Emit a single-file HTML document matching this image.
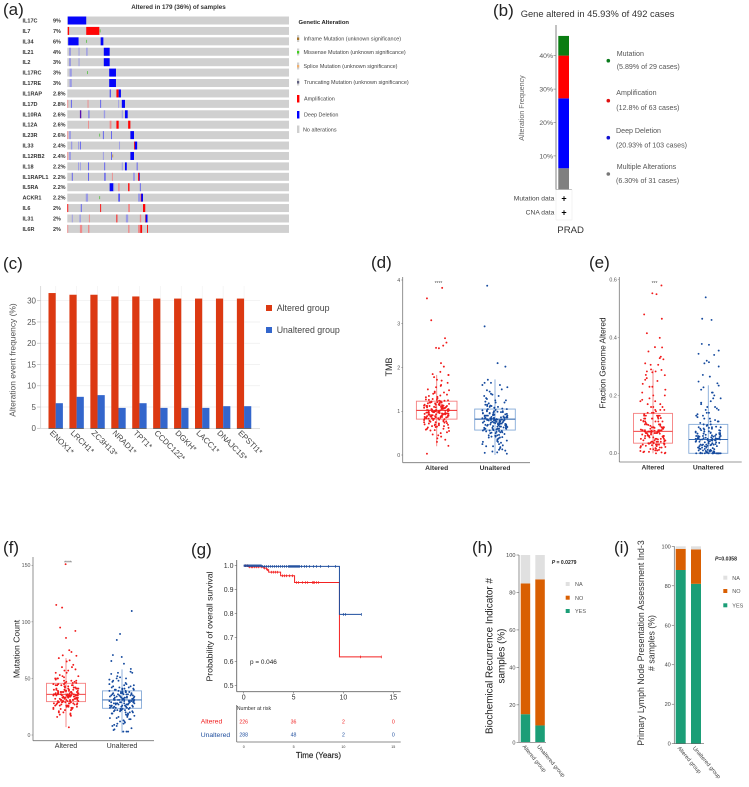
<!DOCTYPE html>
<html lang="en">
<head>
<meta charset="utf-8">
<title>Multi-panel genomic alteration figure</title>
<style>
html,body{margin:0;padding:0;background:#fff;width:749px;height:787px;overflow:hidden}
svg{display:block;fill:#333;filter:blur(.3px)}
text{font-family:"Liberation Sans",sans-serif}
.plabel{font-size:17px;fill:#222}
.leg5{font-size:5.45px;fill:#444}
.b7{font-size:7.1px;fill:#555}
.cnt{font-size:5.6px;fill:#555}
</style>
</head>
<body>
<svg id="figure" xmlns="http://www.w3.org/2000/svg" width="749" height="787" viewBox="0 0 749 787">
<rect x="0" y="0" width="749" height="787" fill="#fff"/>

<g id="panel-a">
  <text class="plabel" x="3" y="15">(a)</text>
  <text x="178.5" y="9" text-anchor="middle" font-size="6.3" font-weight="bold">Altered in 179 (36%) of samples</text>
  <text x="298.5" y="24" font-size="5.9" font-weight="bold" fill="#222">Genetic Alteration</text>
  <g>
    <rect x="297" y="35" width="2.2" height="7" fill="#d0d0d0"/>
    <rect x="297" y="37.5" width="2.2" height="2.5" fill="#a5742a"/>
    <text class="leg5" x="303.5" y="40.7">Inframe Mutation (unknown significance)</text>
    <rect x="297" y="48.5" width="2.2" height="7" fill="#d0d0d0"/>
    <rect x="297" y="51" width="2.2" height="2.5" fill="#3fd01c"/>
    <text class="leg5" x="303.5" y="54">Missense Mutation (unknown significance)</text>
    <rect x="297" y="62.5" width="2.2" height="7" fill="#d0d0d0"/>
    <rect x="297" y="65" width="2.2" height="2.5" fill="#f0b070"/>
    <text class="leg5" x="303.5" y="68">Splice Mutation (unknown significance)</text>
    <rect x="297" y="78.5" width="2.2" height="7" fill="#d0d0d0"/>
    <rect x="297" y="81" width="2.2" height="2.5" fill="#606080"/>
    <text class="leg5" x="304" y="84">Truncating Mutation (unknown significance)</text>
    <rect x="297" y="95" width="2.4" height="7.5" fill="#ff0000"/>
    <text class="leg5" x="304" y="100.5">Amplification</text>
    <rect x="297" y="111" width="2.4" height="7.5" fill="#0000ff"/>
    <text class="leg5" x="304" y="116.7">Deep Deletion</text>
    <rect x="297" y="125.5" width="2.4" height="7.5" fill="#cfcfcf"/>
    <text class="leg5" x="303" y="131.3">No alterations</text>
  </g>
</g>

<g id="panel-b">
  <text class="plabel" x="493" y="16">(b)</text>
  <text x="520.7" y="17" font-size="9.35" fill="#333">Gene altered in 45.93% of 492 cases</text>
  <text transform="translate(524,108) rotate(-90)" text-anchor="middle" font-size="7.1" fill="#666">Alteration Frequency</text>
  <line x1="556" y1="189.5" x2="572" y2="189.5" stroke="#aaa" stroke-width="0.7"/>
  <line x1="556" y1="189.5" x2="556" y2="220" stroke="#eee" stroke-width="0.7"/>
  <line x1="572" y1="189.5" x2="572" y2="220" stroke="#eee" stroke-width="0.7"/>
  <line x1="556" y1="220" x2="572" y2="220" stroke="#eee" stroke-width="0.7"/>
  <g>
    <circle cx="608.3" cy="60.7" r="1.8" fill="#0a7a1c"/>
    <text class="b7" x="616.7" y="56">Mutation</text>
    <text class="b7" x="616.7" y="69">(5.89% of 29 cases)</text>
    <circle cx="608.3" cy="100.7" r="1.8" fill="#e01010"/>
    <text class="b7" x="616.3" y="95">Amplification</text>
    <text class="b7" x="616.3" y="110">(12.8% of 63 cases)</text>
    <circle cx="608.3" cy="137.7" r="1.8" fill="#1010d0"/>
    <text class="b7" x="616" y="133">Deep Deletion</text>
    <text class="b7" x="616" y="147.5">(20.93% of 103 cases)</text>
    <circle cx="608.3" cy="174" r="1.8" fill="#777"/>
    <text class="b7" x="616.7" y="169">Multiple Alterations</text>
    <text class="b7" x="616" y="183">(6.30% of 31 cases)</text>
  </g>
  <text x="554.3" y="200.5" text-anchor="end" font-size="6.7" fill="#444">Mutation data</text>
  <text x="564" y="201.5" text-anchor="middle" font-size="9" font-weight="bold" fill="#000">+</text>
  <text x="554.3" y="214.5" text-anchor="end" font-size="6.7" fill="#444">CNA data</text>
  <text x="564" y="215.5" text-anchor="middle" font-size="9" font-weight="bold" fill="#000">+</text>
  <text x="557.3" y="233" font-size="9.6" fill="#333">PRAD</text>
</g>

<g id="panel-c">
  <text class="plabel" x="3" y="269">(c)</text>
  <text transform="translate(15.5,360) rotate(-90)" text-anchor="middle" font-size="8.45" fill="#555">Alteration event frequency (%)</text>
  <rect x="266" y="305" width="6" height="6" fill="#dc3912"/>
  <text x="276.7" y="311" font-size="8.8" fill="#444">Altered group</text>
  <rect x="266" y="327" width="6" height="6" fill="#3366cc"/>
  <text x="276.7" y="333" font-size="8.8" fill="#444">Unaltered group</text>
</g>

<g id="panel-d">
  <text class="plabel" x="371" y="268">(d)</text>
  <text transform="translate(392,367) rotate(-90)" text-anchor="middle" font-size="9" fill="#222">TMB</text>
  <text x="438.5" y="285" text-anchor="middle" font-size="5" fill="#555">****</text>
</g>

<g id="panel-e">
  <text class="plabel" x="589" y="268">(e)</text>
  <text transform="translate(605.5,363) rotate(-90)" text-anchor="middle" font-size="8.2" fill="#222">Fraction Genome Altered</text>
  <text x="654.5" y="285" text-anchor="middle" font-size="5" fill="#555">***</text>
</g>

<g id="panel-f">
  <text class="plabel" x="3" y="553">(f)</text>
  <text transform="translate(19.5,649) rotate(-90)" text-anchor="middle" font-size="8.6" fill="#222">Mutation Count</text>
  <text x="68" y="564.5" text-anchor="middle" font-size="5" fill="#555">****</text>
</g>

<g id="panel-g">
  <text class="plabel" x="191" y="555">(g)</text>
  <text transform="translate(212.5,626.5) rotate(-90)" text-anchor="middle" font-size="8.7" fill="#222">Probability of overall survival</text>
  <text x="250" y="664" font-size="6.4" fill="#222">p = 0.046</text>
  <text x="236.7" y="710" font-size="5.3" fill="#333">Number at risk</text>
  <text x="200.7" y="723.5" font-size="6.8" fill="#f02020">Altered</text>
  <text x="200.7" y="737" font-size="6.8" fill="#1f4e9e">Unaltered</text>
  <text x="318.5" y="758" text-anchor="middle" font-size="8" fill="#222" stroke="#222" stroke-width="0.15">Time (Years)</text>
</g>

<g id="panel-h">
  <text class="plabel" x="472" y="553">(h)</text>
  <text transform="translate(492.5,656) rotate(-90)" text-anchor="middle" font-size="9.9" fill="#222">Biochemical Recurrence Indicator #</text>
  <text transform="translate(504.5,656) rotate(-90)" text-anchor="middle" font-size="9.9" fill="#222">samples (%)</text>
  <text x="551.7" y="564" font-size="5.1" font-weight="bold" fill="#222"><tspan font-style="italic">P</tspan> = 0.0279</text>
  <rect x="565.7" y="582" width="4" height="4" fill="#e0e0e0"/>
  <text x="575" y="586.2" font-size="5.5" fill="#555">NA</text>
  <rect x="565.7" y="595.7" width="4" height="4" fill="#d95f02"/>
  <text x="575" y="599.9" font-size="5.5" fill="#555">NO</text>
  <rect x="565.7" y="609" width="4" height="4" fill="#1b9e77"/>
  <text x="575" y="613.2" font-size="5.5" fill="#555">YES</text>
</g>

<g id="panel-i">
  <text class="plabel" x="614" y="553">(i)</text>
  <text transform="translate(644,643) rotate(-90)" text-anchor="middle" font-size="8.75" fill="#333">Primary Lymph Node Presentation Assessment Ind-3</text>
  <text transform="translate(654.5,643) rotate(-90)" text-anchor="middle" font-size="8.75" fill="#333"># samples (%)</text>
  <text x="715" y="560.5" font-size="5.1" font-weight="bold" fill="#222"><tspan font-style="italic">P</tspan>=0.0358</text>
  <rect x="723.3" y="575.7" width="4" height="4" fill="#e0e0e0"/>
  <text x="732.3" y="579.9" font-size="5.5" fill="#555">NA</text>
  <rect x="723.3" y="589" width="4" height="4" fill="#d95f02"/>
  <text x="732.3" y="593.2" font-size="5.5" fill="#555">NO</text>
  <rect x="723.3" y="603.3" width="4" height="4" fill="#1b9e77"/>
  <text x="732.3" y="607.5" font-size="5.5" fill="#555">YES</text>
</g>
</svg>

<script>
// ---------- Panel (a) data ----------
const geneNames = ['IL17C','IL7','IL34','IL21','IL2','IL17RC','IL17RE','IL1RAP','IL17D','IL10RA','IL12A','IL23R','IL33','IL12RB2','IL18','IL1RAPL1','IL5RA','ACKR1','IL6','IL31','IL6R'];
const genePercents = ['9%','7%','6%','4%','3%','3%','3%','2.8%','2.8%','2.6%','2.6%','2.6%','2.4%','2.4%','2.2%','2.2%','2.2%','2.2%','2%','2%','2%'];
const totalSamples = 492;
// each event: [type, first sample, last sample]
const geneEvents = [
 [['D',1,42]],
 [['A',1,4],['A',42,71],['M',72,73]],
 [['D',2,25],['M',42,43],['D',74,80]],
 [['d',5,7],['f',25,27],['f',42,45],['D',81,94]],
 [['d',5,7],['f',25,27],['D',81,94]],
 [['f',5,10],['M',44,45],['D',93,108]],
 [['f',5,10],['D',93,108]],
 [['d',94,97],['A',109,114],['D',114,119]],
 [['s',0,2],['d',8,10],['s',45,47],['d',73,75],['f',113,115],['D',121,128]],
 [['P',28,31],['d',47,49],['f',81,84],['f',121,123],['D',128,134]],
 [['s',46,48],['s',94,98],['A',109,114],['A',135,140]],
 [['s',0,2],['f',4,8],['M',71,72],['d',79,81],['d',97,99],['D',140,148]],
 [['f',8,11],['f',24,26],['d',28,30],['f',115,117],['A',148,150],['D',150,155]],
 [['s',0,2],['f',4,8],['f',79,81],['d',97,99],['O',100,101],['D',140,148]],
 [['f',24,26],['f',28,30],['d',46,48],['d',82,84],['f',121,123],['D',128,132],['d',154,156]],
 [['d',10,12],['d',46,48],['d',82,85],['s',99,101],['f',146,150],['A',157,159],['P',159,161]],
 [['D',94,102],['f',102,104],['s',113,116],['A',135,138],['d',161,163]],
 [['f',41,46],['M',71,72],['d',113,117],['f',157,162],['A',163,164],['D',164,168]],
 [['A',0,2],['d',30,32],['A',73,75],['s',135,139],['A',168,173]],
 [['f',10,12],['f',27,30],['s',48,50],['A',109,111],['f',130,135],['s',161,164],['A',173,174],['D',174,178]],
 [['s',0,2],['s',28,33],['s',46,49],['s',135,138],['s',157,162],['A',162,166],['A',177,179]]
];
// ---------- Panel (b) data ----------
const cancerStackLabels = ['Multiple Alterations','Deep Deletion','Amplification','Mutation'];
const cancerStackValues = [6.3,20.93,12.8,5.89];
const cancerTicks = [10,20,30,40];
// ---------- Panel (c) data ----------
const eventGenes = ['ENOX1*','LRCH1*','ZC3H13*','NRAD1*','TPT1*','CCDC122*','DGKH*','LACC1*','DNAJC15*','EPSTI1*'];
const eventAltered = [31.8,31.4,31.4,31,31,30.5,30.5,30.5,30.5,30.5];
const eventUnaltered = [5.9,7.4,7.8,4.8,5.9,4.8,4.8,4.8,5.2,5.2];
const eventTicks = [0,5,10,15,20,25,30];
// ---------- Strip plots: shared jitter fractions ----------
const stripJitter = [-.62,.31,-.08,.84,-.41,.17,.66,-.93,.05,-.27,.52,-.74,.38,.91,-.15,-.55,.23,.73,-.36,.02,-.83,.46,-.2,.6,-.68,.12,.95,-.48,.28,-.05,.79,-.97,.41,-.31,.56,-.12,.87,-.6,.19,-.79,.34];
// ---------- Panel (d) data ----------
const stripGroups = ['Altered','Unaltered'];
const tmbTicks = [0,1,2,3,4];
const tmbAltered = [1.02,.88,1.15,.95,1.21,.72,1.08,.83,1.33,.98,.6,1.12,.9,1.05,1.42,.78,1.18,.86,1,.65,1.27,.93,1.1,.82,1.5,.97,.55,1.2,.85,1.03,1.38,.75,1.14,.91,1.07,.7,1.25,.96,1.16,.84,1.6,.99,.5,1.09,.87,1.22,.68,1.01,.94,1.3,.8,1.13,.89,1.06,.62,1.45,.92,1.19,.77,1.04,1.72,.58,1.11,.83,1.24,.97,.45,1.17,.88,1.02,1.55,.73,1.08,.95,1.28,.66,1,.9,1.35,.81,1.12,.42,.98,1.23,.86,1.65,1.05,.71,.93,1.15,.38,1.4,.79,1.03,.89,1.83,.57,1.2,.96,1.1,.84,.3,1.32,.92,1.78,1.07,.63,.99,1.48,.76,1.9,1.01,.52,1.13,.87,1.85,.94,1.18,.69,1.26,1,.85,1.1,.92,1.22,.75,1.04,.88,1.16,.96,.7,1.3,.82,1.06,.6,1.2,.9,1,.78,1.14,.95,.66,1.26,.86,1.08,.98,.74,1.18,.84,1.02,.56,1.36,.93,1.12,.8,1.05,.47,1.43,.89,1,.72,1.24,.97,1.1,.83,1.58,.64,1.03,.91,1.15,.35,.87,1.21,.99,.77,1.09,1.7,.94,.68,1.12];
const tmbAlteredOutliers = [[-.75,3.58],[-.42,3.08],[.42,3.82],[.64,2.67],[.75,2.57],[.5,2.5],[-.05,2.45],[.17,2.44],[.33,2.1],[.55,2.02],[.9,1.83],[-.75,.03],[.9,.21]];
const tmbUnaltered = [.82,.6,1,.7,.95,.45,.88,.3,.78,1.12,.55,.85,.65,1.05,.2,.9,.72,1.2,.5,.8,.62,.98,.08,.75,1.3,.58,.86,.4,.68,1.08,.93,.25,.77,1.4,.52,.83,.66,1.15,.35,.89,.7,1.02,.12,.74,1.25,.56,.81,.63,.96,.42,.87,1.5,.6,.79,.03,.91,.69,1.1,.48,.84,.73,1.35,.28,.76,1,.54,.82,.64,1.18,.38,.92,.71,1.6,.18,.8,1.06,.57,.86,.67,.99,.05,.78,1.28,.46,.83,.61,1.45,.32,.88,.74,1.03,.51,.81,1.22,.15,.94,.59,1.72,.7,.85,1.13,.44,.77,.65,1.38,.22,.9,.53,1.55,.79,.6,1.08,.1,.84,.72,1.65,.41,.97,.68,.8,.65,.9,.75,1,.55,.85,.7,1.1,.6,.78,.95,.5,.83,.72,1.15,.4,.88,.66,1.05,.3,.8,.7,1.25,.58,.86,.62,.98,.2,.76,.9,.45,1.35,.82,.68,1.02,.52,.74,.13,.92,.6,1.12,.36,.84,.71,1.48,.25,.79,.64,.96,.06,.87,.56,1.2,.42,.81,.69,1.6,.33,.93];
const tmbUnalteredOutliers = [[-.6,3.87],[-.8,2.94],[.2,2.1],[.8,2.02],[-.8,1.65]];
const tmbAlteredBox = [.2,.82,1.02,1.23,1.83];
const tmbUnalteredBox = [0,.57,.82,1.05,1.73];
// ---------- Panel (e) data ----------
const fgaTicks = [0,.2,.4,.6];
const fgaAltered = [.08,.03,.12,.06,.17,.01,.09,.05,.14,.075,.02,.11,.04,.2,.07,.13,0,.085,.035,.16,.065,.1,.015,.078,.13,.045,.22,.07,.025,.12,.055,.18,.08,.005,.095,.04,.15,.06,.11,.03,.25,.075,.01,.09,.05,.14,.07,.02,.115,.035,.19,.08,.045,.125,0,.065,.105,.03,.16,.075,.055,.21,.012,.085,.04,.135,.07,.022,.1,.05,.28,.06,.008,.12,.033,.17,.078,.042,.11,.018,.24,.072,.052,.13,.028,.09,.062,.15,.003,.082,.038,.23,.068,.112,.048,.27,.076,.026,.145,.058,.098,.014,.185,.074,.036,.122,.006,.088,.044,.26,.07,.04,.09,.02,.11,.06,.15,.075,.03,.12,.05,.08,.01,.1,.07,.14,.035,.065,.18,.08,.025,.09,.055,.13,.004,.075,.045,.16,.07,.016,.11,.06,.2,.08,.03,.095,.05,.12,.078,.002,.07,.04,.23,.085,.02,.13,.06,.1,.074,.033];
const fgaAlteredOutliers = [[.65,.58],[-.05,.553],[.27,.55],[-.68,.48],[.68,.465],[-.47,.415],[.52,.399],[.15,.367],[.7,.366],[-.35,.352],[.6,.334],[.52,.329],[.8,.325],[-.6,.311],[-.18,.306],[.4,.306],[.65,.288],[-.15,.29],[-.47,.283],[.2,.283],[-.55,.271],[-.6,.254]];
const fgaUnaltered = [0,.05,.002,.08,.03,.11,0,.06,.14,.015,.045,.09,.004,.07,.02,.17,.055,0,.1,.035,.05,.2,.008,.065,.025,.12,0,.048,.085,.012,.15,.04,.006,.075,.052,.095,0,.03,.18,.06,.018,.105,.044,.003,.07,.13,.028,.05,0,.088,.038,.16,.01,.058,.078,.022,.22,.046,0,.068,.034,.125,.005,.054,.092,.016,.042,.19,0,.062,.026,.11,.05,.007,.082,.032,.14,.056,.002,.072,.02,.21,.047,0,.098,.036,.06,.012,.155,.043,.076,.024,.115,.052,0,.066,.03,.175,.009,.05,.086,.04,.135,.001,.064,0,.04,.01,.06,.02,.09,.05,0,.075,.03,.12,.045,.005,.065,.015,.1,.055,0,.085,.035,.16,.05,.01,.07,.025,.13,.042,0,.06,.02,.19,.048,.003,.08,.03,.11,.052,0,.068,.014,.15,.038,.058,.006,.09,.028,.21,.046,0,.072];
const fgaUnalteredOutliers = [[-.2,.539],[-.47,.465],[.25,.461],[-.5,.378],[.05,.375],[.8,.355],[-.75,.344],[.45,.34],[-.12,.32],[-.3,.311],[.05,.315],[.8,.3],[-.42,.271],[.12,.265],[-.75,.248],[.7,.242],[-.37,.228],[.8,.234]];
const fgaAlteredBox = [0,.035,.076,.138,.29];
const fgaUnalteredBox = [0,0,.048,.1,.235];
// ---------- Panel (f) data ----------
const mcTicks = [0,50,100,150];
const mcAltered = [36,30,42,25,38,33,47,28,35,52,31,40,22,37,45,29,34,58,27,39,32,44,20,36,50,30,41,26,35,33,48,24,38,60,31,43,28,37,34,55,18,39,30,46,35,23,41,32,36,65,29,44,27,38,33,51,21,40,35,31,47,26,37,34,42,16,36,30,53,28,39,33,45,24,38,62,32,41,29,35,49,19,37,31,43,27,36,57,34,40,25,30,46,35,17,39,33,68,28,42,36,31,50,23,38,34,44,26,37,32,66,29,41,35,48,35,28,40,32,45,25,37,30,50,34,22,38,31,43,27,36,55,33,24,41,29,35,48,20,39,32,44,26,36,60,30,42,28,34,52,18,37,33,46,23,35,29,40,57,31,38,26,44,34,30];
const mcAlteredOutliers = [[-.03,151],[-.75,115],[-.3,112.6],[-.45,95],[.72,92],[0,85.8],[.25,75],[.42,73.4],[-.25,70.4],[.8,70],[.22,6.8]];
const mcUnaltered = [31,25,38,20,34,28,43,15,32,48,23,36,27,40,12,33,22,30,52,26,35,18,42,29,37,10,31,24,46,33,21,39,27,55,14,34,30,25,41,19,36,28,50,23,32,8,44,35,26,38,16,30,47,24,33,29,40,11,37,22,31,54,27,35,20,43,13,34,28,39,25,32,49,17,36,30,23,41,9,33,26,45,21,38,29,35,15,31,56,24,37,27,42,19,34,30,51,22,33,6,28,40,25,36,31,30,24,36,28,40,20,33,26,45,16,31,38,22,29,35,12,42,27,32,18,37,25,50,30,14,34,23,39,28,8,33,44,21,31,26,36,10,41,29,19,35,24,48,32,17,27,38,22,55,30];
const mcUnalteredOutliers = [[.75,109.6],[-.15,89.3],[-.4,84],[-.7,70.7],[-.02,69],[-.82,65.4],[.15,63],[.68,58.4],[.1,3],[-.58,5],[.35,3],[.47,3],[-.65,4.4]];
const mcAlteredBox = [7,29.5,36,45.7,68];
const mcUnalteredBox = [2,23.6,31,39,58];
// ---------- Panel (g) data ----------
const survYTicks = [.5,.6,.7,.8,.9,1];
const survXTicks = [0,5,10,15];
const redTimes = [0,.5,2,2.3,2.5,3.7,5.1,9.6];
const redSurvival = [1,.995,.99,.983,.973,.958,.93,.62];
const redEnd = 13.8;
const blueTimes = [0,1.8,9.6];
const blueSurvival = [1,.997,.797];
const blueEnd = 11.8;
const redCensor = [.2,.4,.6,.8,.9,1.1,1.3,1.5,1.8,2.1,2.4,2.8,3,3.2,3.4,3.9,4.1,4.3,4.6,4.9,5.3,5.5,5.9,6.2,6.4,6.9,7,7.1,7.3,7.5,11.7,13.8];
const blueCensor = [.05,.15,.25,.35,.45,.55,.65,.75,.85,.95,1.05,1.15,1.25,1.35,1.45,1.55,1.65,1.75,1.9,2.1,2.3,2.5,2.7,2.9,3.1,3.3,3.5,3.7,3.9,4.1,4.3,4.5,4.6,4.7,4.8,4.9,5,5.1,5.2,5.3,5.4,5.5,5.6,5.8,6.1,6.3,6.6,7,7.3,7.7,8.5,9.2,10,10.2,11.8];
const riskAltered = [226,36,2,0];
const riskUnaltered = [288,48,2,0];
// ---------- Panels (h), (i) data ----------
const stackCats = ['Altered group','Unaltered group'];
const stackPctTicks = [0,20,40,60,80,100];
const recurrenceYes = [15,9];
const recurrenceNo = [69.8,78];
const recurrenceNa = [15.2,13];
const lymphYes = [88,81];
const lymphNo = [10.7,17.4];
const lymphNa = [1.3,1.6];

// ---------- helpers ----------
const NS = 'http://www.w3.org/2000/svg';
function add(parent, tag, attrs, name, text) {
  const node = document.createElementNS(NS, tag);
  for (const k in attrs) node.setAttribute(k, attrs[k]);
  
  
  if (text !== undefined) node.textContent = text;
  parent.appendChild(node);
  return node;
}
const linear = (d0, d1, r0, r1) => v => r0 + (v - d0) / (d1 - d0) * (r1 - r0);
const panel = id => document.getElementById(id);

// ---------- Panel (a) ----------
(function () {
  const g = panel('panel-a');
  const sx = linear(0, totalSamples, 67.3, 289);
  const rowY = i => 20.5 + i * 10.42;
  const colors = {D:'#0505fa',A:'#ff0505',d:'#5a5af0',f:'#9a9ae4',s:'#ee8a8a',M:'#55c040',P:'#5a10b0',O:'#c09030'};
  geneNames.forEach((gene, i) => {
    const y = rowY(i);
    add(g, 'text', {x:22.5, y:y + 2, 'font-size':5.5, 'font-weight':'bold', fill:'#333'}, 'gene-label-' + gene, gene);
    add(g, 'text', {x:53, y:y + 2, 'font-size':5.5, 'font-weight':'bold', fill:'#333'}, 'gene-percent-' + gene, genePercents[i]);
    add(g, 'rect', {x:sx(0), y:y - 4, width:sx(totalSamples) - sx(0), height:8, fill:'#d0d0d0'}, 'oncoprint-row-' + gene);
    geneEvents[i].forEach(ev => {
      const small = ev[0] === 'M' || ev[0] === 'O';
      const h = small ? 3 : 8;
      add(g, 'rect', {x:sx(ev[1]), y:y - h / 2, width:Math.max(sx(ev[2]) - sx(ev[1]), .8), height:h, fill:colors[ev[0]]}, 'alteration-' + gene);
    });
  });
})();

// ---------- Panel (b) ----------
(function () {
  const g = panel('panel-b');
  const y = linear(0, 40, 189.3, 55.7);
  const colors = ['#808080','#0000ff','#ff0000','#0a7d12'];
  let base = 0;
  cancerStackValues.forEach((v, i) => {
    add(g, 'rect', {x:558.3, y:y(base + v), width:10.7, height:y(base) - y(base + v), fill:colors[i]}, 'stack-' + cancerStackLabels[i].toLowerCase().replace(/ /g, '-'));
    base += v;
  });
  add(g, 'line', {x1:556, y1:25, x2:556, y2:189.5, stroke:'#777', 'stroke-width':.9}, 'panel-b-y-axis');
  cancerTicks.forEach(t => {
    add(g, 'line', {x1:553.5, y1:y(t), x2:556, y2:y(t), stroke:'#777', 'stroke-width':.6}, 'panel-b-tick-' + t);
    add(g, 'text', {x:553, y:y(t) + 2.4, 'text-anchor':'end', 'font-size':6.8, fill:'#555'}, 'panel-b-tick-label-' + t, t + '%');
  });
})();

// ---------- Panel (c) ----------
(function () {
  const g = panel('panel-c');
  const y = linear(0, 30, 428.3, 300.7);
  const gx = i => 55.7 + i * 20.93;
  eventTicks.forEach(t => {
    add(g, 'line', {x1:40.7, y1:y(t), x2:260, y2:y(t), stroke:t === 0 ? '#ccc' : '#eeeeee', 'stroke-width':.7}, 'panel-c-gridline-' + t);
    add(g, 'line', {x1:37, y1:y(t), x2:40.7, y2:y(t), stroke:'#bbb', 'stroke-width':.7}, 'panel-c-tick-' + t);
    add(g, 'text', {x:36, y:y(t) + 2.9, 'text-anchor':'end', 'font-size':8, fill:'#555'}, 'panel-c-tick-label-' + t, t);
  });
  add(g, 'line', {x1:40.7, y1:286, x2:40.7, y2:428.3, stroke:'#ccc', 'stroke-width':.7}, 'panel-c-y-axis');
  eventGenes.forEach((name, i) => {
    add(g, 'line', {x1:gx(i), y1:286, x2:gx(i), y2:428.3, stroke:'#f2f2f2', 'stroke-width':.7}, 'panel-c-vgrid-' + i);
    add(g, 'rect', {x:gx(i) - 7.2, y:y(eventAltered[i]), width:7.2, height:y(0) - y(eventAltered[i]), fill:'#dc3912'}, 'bar-altered-' + name);
    add(g, 'rect', {x:gx(i), y:y(eventUnaltered[i]), width:7.2, height:y(0) - y(eventUnaltered[i]), fill:'#3366cc'}, 'bar-unaltered-' + name);
    add(g, 'line', {x1:gx(i) - 7.2, y1:y(0) + .2, x2:gx(i) + 7.2, y2:y(0) + .2, stroke:'#444', 'stroke-width':.7}, 'panel-c-baseline-' + i);
    add(g, 'text', {transform:'translate(' + (gx(i) - 6.5) + ',433.5) rotate(45)', 'font-size':8, fill:'#444'}, 'x-label-' + name, name);
  });
})();

// ---------- Strip plots (d), (e), (f) ----------
function stripPlot(cfg) {
  const g = panel(cfg.panel);
  const y = linear(cfg.ticks[0], cfg.ticks[cfg.ticks.length - 1], cfg.y0, cfg.y1);
  add(g, 'line', {x1:cfg.axisX, y1:cfg.axisTop, x2:cfg.axisX, y2:cfg.axisY, stroke:'#777', 'stroke-width':.8}, cfg.panel + '-y-axis');
  add(g, 'line', {x1:cfg.axisX, y1:cfg.axisY, x2:cfg.axisEnd, y2:cfg.axisY, stroke:'#777', 'stroke-width':.8}, cfg.panel + '-x-axis');
  cfg.ticks.forEach(t => {
    add(g, 'line', {x1:cfg.axisX - 1.5, y1:y(t), x2:cfg.axisX, y2:y(t), stroke:'#777', 'stroke-width':.5}, cfg.panel + '-tick-' + t);
    add(g, 'text', {x:cfg.axisX - 2.5, y:y(t) + 1.9, 'text-anchor':'end', 'font-size':5.3, fill:'#555'}, cfg.panel + '-tick-label-' + t, t === 0 && cfg.oneDecimal ? '0.0' : (cfg.oneDecimal ? t.toFixed(1) : t));
  });
  const groups = [
    {c:cfg.c0, vals:cfg.a, out:cfg.aOut, box:cfg.aBox, col:'#f11a1a', boxCol:'#f57f7f', med:'#f02828', name:'altered'},
    {c:cfg.c1, vals:cfg.u, out:cfg.uOut, box:cfg.uBox, col:'#154a9e', boxCol:'#85aad8', med:'#1f5aa8', name:'unaltered'}
  ];
  groups.forEach((gr, gi) => {
    add(g, 'text', {x:gr.c, y:cfg.axisY + 7.5, 'text-anchor':'middle', 'font-size':cfg.boldX ? 6.7 : 7.1, 'font-weight':cfg.boldX ? 'bold' : 'normal', fill:'#333'}, cfg.panel + '-x-label-' + gr.name, stripGroups[gi]);
    const b = gr.box;
    add(g, 'line', {x1:gr.c, y1:y(b[0]), x2:gr.c, y2:y(b[4]), stroke:gr.boxCol, 'stroke-width':.9}, cfg.panel + '-whisker-' + gr.name);
    add(g, 'rect', {x:gr.c - cfg.half, y:y(b[3]), width:cfg.half * 2, height:y(b[1]) - y(b[3]), fill:'none', stroke:gr.boxCol, 'stroke-width':.9}, cfg.panel + '-box-' + gr.name);
    add(g, 'line', {x1:gr.c - cfg.half, y1:y(b[2]), x2:gr.c + cfg.half, y2:y(b[2]), stroke:gr.med, 'stroke-width':.9}, cfg.panel + '-median-' + gr.name);
    gr.vals.forEach((v, i) => {
      add(g, 'circle', {cx:gr.c + stripJitter[i % stripJitter.length] * 13, cy:y(v), r:.95, fill:gr.col}, cfg.panel + '-point-' + gr.name);
    });
    gr.out.forEach(p => {
      add(g, 'circle', {cx:gr.c + p[0] * 13, cy:y(p[1]), r:.95, fill:gr.col}, cfg.panel + '-outlier-' + gr.name);
    });
  });
}
stripPlot({panel:'panel-d', ticks:tmbTicks, y0:455, y1:280, axisX:402.7, axisTop:277, axisY:462.7, axisEnd:530, c0:436.7, c1:495, half:20.3, a:tmbAltered, aOut:tmbAlteredOutliers, aBox:tmbAlteredBox, u:tmbUnaltered, uOut:tmbUnalteredOutliers, uBox:tmbUnalteredBox, boldX:true});
stripPlot({panel:'panel-e', ticks:fgaTicks, y0:453.3, y1:279.7, axisX:619.3, axisTop:277, axisY:462, axisEnd:741.7, c0:653, c1:708.3, half:19.5, a:fgaAltered, aOut:fgaAlteredOutliers, aBox:fgaAlteredBox, u:fgaUnaltered, uOut:fgaUnalteredOutliers, uBox:fgaUnalteredBox, boldX:true, oneDecimal:true});
stripPlot({panel:'panel-f', ticks:mcTicks, y0:735, y1:565.3, axisX:33, axisTop:557, axisY:740.7, axisEnd:154, c0:66, c1:122, half:19.5, a:mcAltered, aOut:mcAlteredOutliers, aBox:mcAlteredBox, u:mcUnaltered, uOut:mcUnalteredOutliers, uBox:mcUnalteredBox, boldX:false});

// ---------- Panel (g) ----------
(function () {
  const g = panel('panel-g');
  const x = linear(0, 15, 243.7, 393.3);
  const y = linear(.5, 1, 685.7, 565.7);
  add(g, 'line', {x1:236.7, y1:560, x2:236.7, y2:691.7, stroke:'#666', 'stroke-width':.9}, 'survival-y-axis');
  add(g, 'line', {x1:236.7, y1:691.7, x2:400.7, y2:691.7, stroke:'#666', 'stroke-width':.9}, 'survival-x-axis');
  add(g, 'line', {x1:236.7, y1:705, x2:236.7, y2:742, stroke:'#666', 'stroke-width':.8}, 'risk-table-y-axis');
  add(g, 'line', {x1:236.7, y1:742, x2:400.7, y2:742, stroke:'#666', 'stroke-width':.8}, 'risk-table-x-axis');
  survYTicks.forEach(t => {
    add(g, 'line', {x1:234.7, y1:y(t), x2:236.7, y2:y(t), stroke:'#666', 'stroke-width':.6}, 'survival-y-tick-' + t);
    add(g, 'text', {x:233.5, y:y(t) + 2.5, 'text-anchor':'end', 'font-size':7, fill:'#333'}, 'survival-y-tick-label-' + t, t.toFixed(1));
  });
  survXTicks.forEach((t, i) => {
    add(g, 'line', {x1:x(t), y1:691.7, x2:x(t), y2:693.5, stroke:'#666', 'stroke-width':.6}, 'survival-x-tick-' + t);
    add(g, 'text', {x:x(t), y:699.5, 'text-anchor':'middle', 'font-size':7, fill:'#333'}, 'survival-x-tick-label-' + t, t);
    add(g, 'text', {x:x(t), y:723.5, 'text-anchor':'middle', 'font-size':5.2, fill:'#f02020'}, 'risk-altered-' + t, riskAltered[i]);
    add(g, 'text', {x:x(t), y:736.5, 'text-anchor':'middle', 'font-size':5.2, fill:'#1f4e9e'}, 'risk-unaltered-' + t, riskUnaltered[i]);
    add(g, 'text', {x:x(t), y:748, 'text-anchor':'middle', 'font-size':3.6, fill:'#333'}, 'risk-x-tick-label-' + t, t);
  });
  function curve(times, surv, end, color, name) {
    let d = 'M' + x(times[0]) + ' ' + y(surv[0]);
    for (let i = 1; i < times.length; i++) {
      d += 'L' + x(times[i]) + ' ' + y(surv[i - 1]) + 'L' + x(times[i]) + ' ' + y(surv[i]);
    }
    d += 'L' + x(end) + ' ' + y(surv[surv.length - 1]);
    add(g, 'path', {d:d, fill:'none', stroke:color, 'stroke-width':1}, name);
  }
  function survivalAt(times, surv, t) {
    let s = surv[0];
    times.forEach((tt, i) => { if (t >= tt) s = surv[i]; });
    return s;
  }
  function marks(list, times, surv, color, name) {
    list.forEach(t => {
      const s = y(survivalAt(times, surv, t));
      add(g, 'line', {x1:x(t), y1:s - 1.3, x2:x(t), y2:s + 1.3, stroke:color, 'stroke-width':.8}, name);
    });
  }
  curve(redTimes, redSurvival, redEnd, '#f32222', 'survival-curve-altered');
  marks(redCensor, redTimes, redSurvival, '#f32222', 'censor-altered');
  curve(blueTimes, blueSurvival, blueEnd, '#1f4e9e', 'survival-curve-unaltered');
  marks(blueCensor, blueTimes, blueSurvival, '#1f4e9e', 'censor-unaltered');
})();

// ---------- Panels (h), (i) ----------
function stackedPanel(cfg) {
  const g = panel(cfg.panel);
  const y = linear(0, 100, cfg.y0, cfg.y100);
  stackCats.forEach((cat, i) => {
    const x = cfg.bars[i];
    let base = 0;
    [[cfg.yes[i], '#1b9e77', 'yes'], [cfg.no[i], '#d95f02', 'no'], [cfg.na[i], '#e0e0e0', 'na']].forEach(seg => {
      add(g, 'rect', {x:x, y:y(base + seg[0]), width:cfg.barW, height:y(base) - y(base + seg[0]), fill:seg[1]}, cfg.panel + '-bar-' + seg[2] + '-' + i);
      base += seg[0];
    });
    add(g, 'text', {transform:'translate(' + (x + 1.5) + ',' + (cfg.y0 + 4.5) + ') rotate(50)', 'font-size':5.6, fill:'#444'}, cfg.panel + '-x-label-' + i, cat);
  });
  add(g, 'line', {x1:cfg.axisX, y1:cfg.y100, x2:cfg.axisX, y2:cfg.y0, stroke:'#666', 'stroke-width':.7}, cfg.panel + '-y-axis');
  add(g, 'line', {x1:cfg.axisX, y1:cfg.y0, x2:cfg.axisEnd, y2:cfg.y0, stroke:'#666', 'stroke-width':.7}, cfg.panel + '-x-axis');
  stackPctTicks.forEach(t => {
    add(g, 'line', {x1:cfg.axisX - 2.5, y1:y(t), x2:cfg.axisX, y2:y(t), stroke:'#666', 'stroke-width':.6}, cfg.panel + '-tick-' + t);
    add(g, 'text', {x:cfg.axisX - 3.5, y:y(t) + 2, 'text-anchor':'end', 'font-size':5.6, fill:'#444'}, cfg.panel + '-tick-label-' + t, t);
  });
}
stackedPanel({panel:'panel-h', y0:742.3, y100:555, axisX:519, axisEnd:546, bars:[520.7,535.3], barW:9.5, yes:recurrenceYes, no:recurrenceNo, na:recurrenceNa});
stackedPanel({panel:'panel-i', y0:743.7, y100:546.3, axisX:674.3, axisEnd:704, bars:[675.7,691], barW:10, yes:lymphYes, no:lymphNo, na:lymphNa});
</script>
</body>
</html>
